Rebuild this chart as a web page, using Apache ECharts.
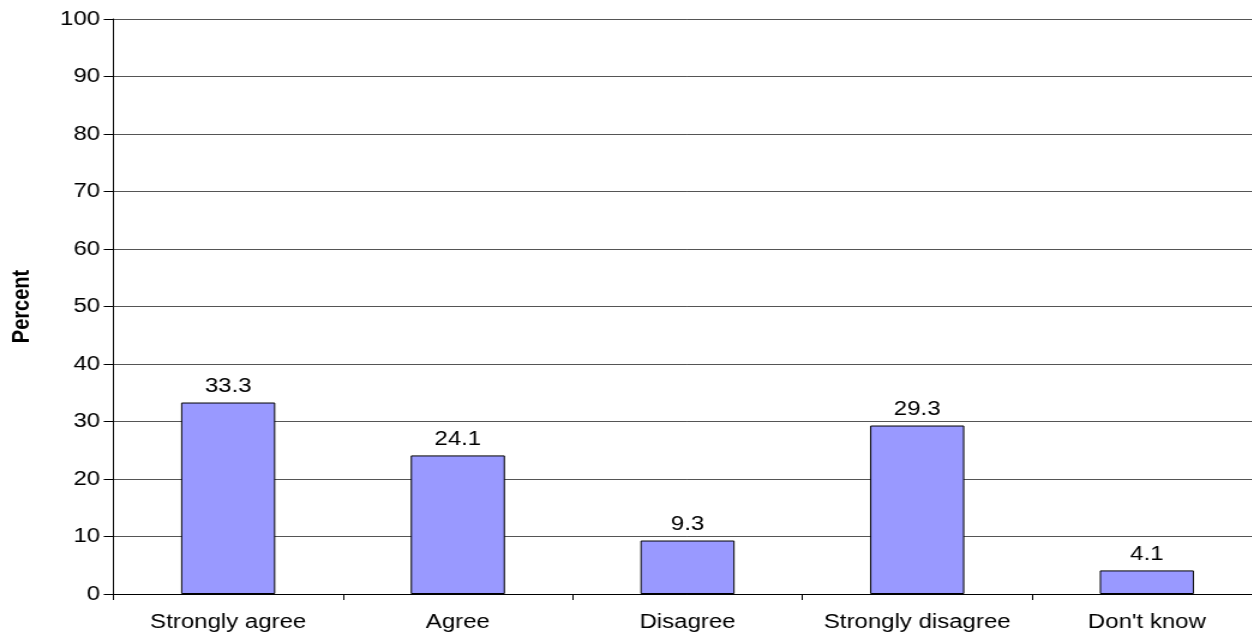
<!DOCTYPE html>
<html><head><meta charset="utf-8">
<script src="https://cdn.jsdelivr.net/npm/echarts@6/dist/echarts.min.js"></script>
<style>
html,body{margin:0;padding:0;background:#fff;overflow:hidden;width:1252px;height:637px}
#c{width:1060px;height:637px;transform:scaleX(1.2);transform-origin:0 0}
</style>
</head><body><div id="c"></div>
<script>
const categories = ["Strongly agree", "Agree", "Disagree", "Strongly disagree", "Don't know"];
const percentValues = [33.3, 24.1, 9.3, 29.3, 4.1];
const yTicks = [0, 10, 20, 30, 40, 50, 60, 70, 80, 90, 100];

const SX = 1.2; // the reference is horizontally stretched
const font = 'Liberation Sans, Arial, sans-serif';
const chart = echarts.init(document.getElementById('c'), null, {renderer: 'canvas'});
chart.setOption({
  animation: false,
  backgroundColor: '#fff',
  grid: {left: 113 / SX, width: (1261.7 - 113) / SX, top: 19, bottom: 43, containLabel: false},
  xAxis: {
    type: 'category',
    data: categories,
    axisLine: {lineStyle: {color: '#000', width: 1}},
    axisTick: {show: true, length: 6, lineStyle: {color: '#000'}},
    axisLabel: {interval: 0, color: '#000', fontFamily: font, fontSize: 20, margin: 18}
  },
  yAxis: {
    type: 'value',
    min: yTicks[0], max: yTicks[yTicks.length - 1], interval: 10,
    name: 'Percent',
    nameLocation: 'middle',
    nameGap: (113 - 22.5) / SX - 9,
    nameRotate: 90,
    nameTextStyle: {color: '#000', fontFamily: font, fontWeight: 'bold', fontSize: 20, padding: [0, 0, 0, 0]},
    axisLine: {show: true, lineStyle: {color: '#000', width: 1}},
    axisTick: {show: true, inside: false, length: 8, lineStyle: {color: '#000'}},
    axisLabel: {color: '#000', fontFamily: font, fontSize: 20, margin: 11},
    splitLine: {show: true, lineStyle: {color: '#555', width: 1}}
  },
  series: [{
    type: 'bar',
    data: percentValues,
    barWidth: '41%',
    itemStyle: {color: '#9999FF', borderColor: '#000', borderWidth: 1},
    label: {show: true, position: 'top', distance: 6, color: '#000', fontFamily: font, fontSize: 20, formatter: p => p.value.toFixed(1)}
  }]
});
</script></body></html>
